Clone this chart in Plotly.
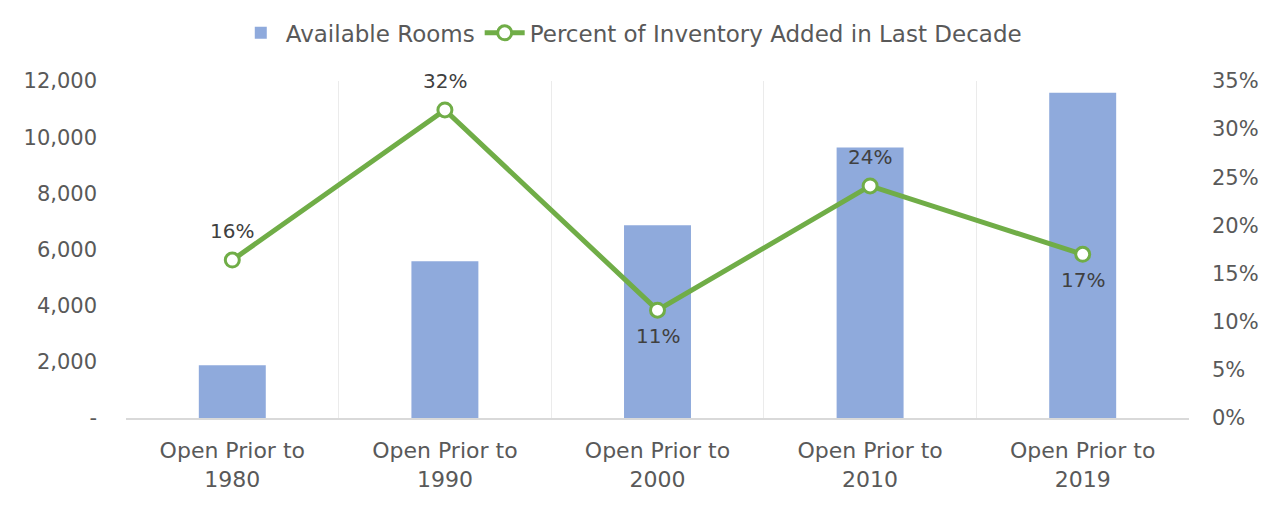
import plotly.graph_objects as go

categories = ["Open Prior to<br>1980", "Open Prior to<br>1990", "Open Prior to<br>2000",
              "Open Prior to<br>2010", "Open Prior to<br>2019"]
available_rooms = [1880, 5580, 6860, 9630, 11580]
pct_added = [0.164, 0.32, 0.112, 0.241, 0.17]
label_above = [True, True, False, True, False]

left_ticks = [0, 2000, 4000, 6000, 8000, 10000, 12000]
left_tick_text = ["-", "2,000", "4,000", "6,000", "8,000", "10,000", "12,000"]
right_ticks = [0, 0.05, 0.10, 0.15, 0.20, 0.25, 0.30, 0.35]

FONT = "DejaVu Sans"
GREY = "#595959"
TICK = 21

fig = go.Figure()
fig.add_trace(go.Bar(
    x=categories, y=available_rooms, name="Available Rooms",
    marker=dict(color="#8FAADC", line=dict(width=0)), width=0.315,
))
fig.add_trace(go.Scatter(
    x=categories, y=pct_added, name="Percent of Inventory Added in Last Decade",
    yaxis="y2", mode="lines+markers",
    line=dict(color="#70AD47", width=5),
    marker=dict(size=14, color="white", line=dict(color="#70AD47", width=3)),
))

for cat, val, above in zip(categories, pct_added, label_above):
    fig.add_annotation(x=cat, y=val, xref="x", yref="y2",
                       text=f"{val:.0%}", showarrow=False,
                       yshift=29 if above else -26,
                       font=dict(family=FONT, size=20, color="#404040"))

fig.update_layout(
    width=1272, height=507,
    margin=dict(l=118, r=91, t=73, b=97),
    paper_bgcolor="white", plot_bgcolor="white",
    font=dict(family=FONT, size=TICK, color=GREY),
    showlegend=True,
    legend=dict(orientation="h", x=0.49, xanchor="center", xref="container",
                y=0.951, yanchor="middle", yref="container",
                font=dict(family=FONT, size=23, color=GREY),
                itemwidth=40, traceorder="normal"),
    xaxis=dict(type="category", tickson="boundaries", showgrid=True,
               gridcolor="#EBEBEB", gridwidth=1, showline=True,
               linecolor="#D9D9D9", linewidth=2, ticks="", automargin=False,
               ticklabelstandoff=12,
               tickfont=dict(family=FONT, size=22, color=GREY)),
    yaxis=dict(range=[0, 12000], tickvals=left_ticks, ticktext=left_tick_text,
               showgrid=False, zeroline=False, showline=False, automargin=False,
               tickfont=dict(family=FONT, size=TICK, color=GREY), ticklabelstandoff=28),
    yaxis2=dict(range=[0, 0.35], tickvals=right_ticks, tickformat=".0%",
                overlaying="y", side="right", showgrid=False, zeroline=False,
                showline=False, automargin=False,
                tickfont=dict(family=FONT, size=TICK, color=GREY),
                ticklabelstandoff=22),
    bargap=0.685,
)

fig.write_html("out.html")
